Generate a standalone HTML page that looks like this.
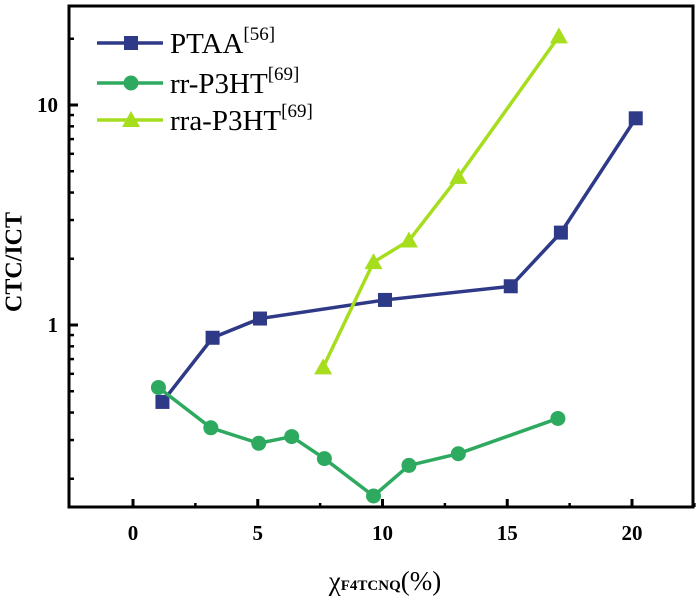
<!DOCTYPE html>
<html><head><meta charset="utf-8"><style>
body{margin:0;background:#fff;}
svg text{font-family:"Liberation Serif",serif;}
</style></head><body>
<svg width="700" height="602" viewBox="0 0 700 602" id="c">
<rect x="69" y="6" width="624" height="501" fill="none" stroke="#000" stroke-width="3"/>
<g id="axes"></g><g id="series"></g>
<g id="legend"></g>
<text x="16" y="262" transform="rotate(-90 16 262)" text-anchor="middle" dominant-baseline="middle" font-size="24" font-weight="bold">CTC/ICT</text>
<text x="385" y="590" text-anchor="middle" font-size="27">χ<tspan font-size="15" font-weight="bold">F4TCNQ</tspan>(%)</text>
</svg>
<script>
const xTicks=[0,5,10,15,20];
const yTicks=[1,10];
const seriesNames=["PTAA","rr-P3HT","rra-P3HT"];
const seriesRefs=["[56]","[69]","[69]"];
const ptaaX=[1.18,3.19,5.09,10.1,15.14,17.15,20.15];
const ptaaY=[0.447,0.875,1.07,1.30,1.50,2.63,8.7];
const rrX=[1.02,3.12,5.04,6.36,7.67,9.64,11.06,13.04,17.03];
const rrY=[0.52,0.341,0.29,0.311,0.247,0.167,0.23,0.26,0.376];
const rraX=[7.62,9.64,11.06,13.04,17.07];
const rraY=[0.642,1.93,2.42,4.71,20.5];
const NS="http://www.w3.org/2000/svg";
const xs=v=>133+v*24.95;
const ys=v=>325-Math.log10(v)*220;
const L=69,B=507,T=6;
function mk(t,a,p){const e=document.createElementNS(NS,t);for(const k in a)e.setAttribute(k,a[k]);p.appendChild(e);return e;}
const ax=document.getElementById('axes');
xTicks.forEach(v=>{
 const t=mk('line',{x1:xs(v),x2:xs(v),y1:B,y2:B-8,stroke:'#000','stroke-width':3},ax);
 
 
 const m=mk('line',{x1:xs(v+2.5),x2:xs(v+2.5),y1:B,y2:B-4,stroke:'#000','stroke-width':2.5},ax);
 
 
 const l=mk('text',{x:xs(v),y:B+33,'text-anchor':'middle','font-size':21,'font-weight':'bold'},ax);
 l.textContent=v;
 
 
});
[0.1,1,10].forEach(d=>{for(let k=1;k<=9;k++){const v=d*k;const y=ys(v);if(y>B||y<T)continue;
 const major=(k===1);
 const t=mk('line',{x1:L,x2:L+(major?9:5),y1:y,y2:y,stroke:'#000','stroke-width':major?3:2.5},ax);
 
 }});
yTicks.forEach(v=>{
 const l=mk('text',{x:58,y:ys(v)+7,'text-anchor':'end','font-size':21,'font-weight':'bold'},ax);
 l.textContent=v;
 
 
});
const cols=['#2e3a87','#2daa5f','#a6de1e'];
const sg=document.getElementById('series');
function marker(kind,x,y,c,p){
 if(kind===0)return mk('rect',{x:x-7,y:y-7,width:14,height:14,fill:c},p);
 if(kind===1)return mk('circle',{cx:x,cy:y,r:7.5,fill:c},p);
 return mk('polygon',{points:`${x},${y-9} ${x+9},${y+7} ${x-9},${y+7}`,fill:c},p);
}
[[ptaaX,ptaaY],[rrX,rrY],[rraX,rraY]].forEach((s,i)=>{
 const g=mk('g',{},sg);
 
 
 const pts=s[0].map((x,j)=>xs(x)+','+ys(s[1][j])).join(' ');
 const pl=mk('polyline',{points:pts,fill:'none',stroke:cols[i],'stroke-width':3.5},g);
 
 
 s[0].forEach((x,j)=>{const m=marker(i,xs(x),ys(s[1][j]),cols[i],g);
  
  });
});
const lg=document.getElementById('legend');
[43,83,120].forEach((y,i)=>{
 const g=mk('g',{},lg);
 
 
 mk('line',{x1:97,x2:163,y1:y,y2:y,stroke:cols[i],'stroke-width':3.5},g);
 marker(i,131,y,cols[i],g);
 const t=mk('text',{x:170,y:y+10,'font-size':29},g);
 t.innerHTML=seriesNames[i]+'<tspan font-size="19" dy="-13">'+seriesRefs[i]+'</tspan>';
});
</script>
</body></html>
